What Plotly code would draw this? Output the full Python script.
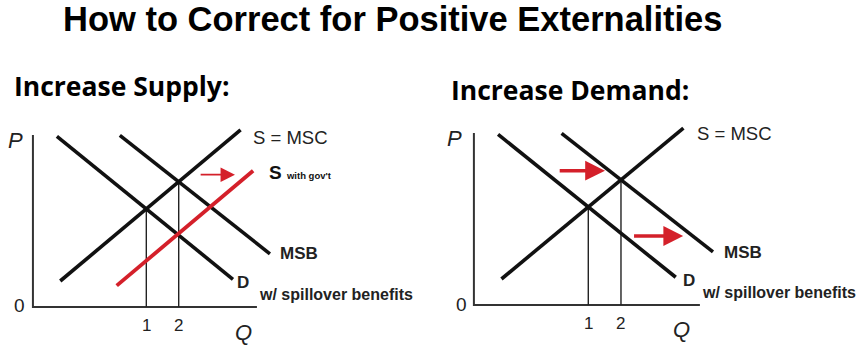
import plotly.graph_objects as go

# ---- data (abstract Q / P units, axis box = 0..10) ----
supply_q = [1.22, 9.27]
supply_p = [1.51, 10.29]
demand_q = [1.07, 8.93]
demand_p = [9.92, 1.61]
msb_q = [3.88, 10.58]
msb_p = [9.98, 3.09]
supply_gov_q = [3.74, 9.83]
supply_gov_p = [1.24, 7.92]

qty_ticks = ["1", "2"]

arrow_left = dict(q0=7.42, q1=9.02, p=7.69)
arrow_right_top = dict(q0=3.73, q1=5.80, p=7.81)
arrow_right_bottom = dict(q0=7.02, q1=9.26, p=4.01)

BLACK = "#111111"
RED = "#d4202a"


def intersect(q1, p1, q2, p2):
    m1 = (p1[1] - p1[0]) / (q1[1] - q1[0])
    m2 = (p2[1] - p2[0]) / (q2[1] - q2[0])
    b1 = p1[0] - m1 * q1[0]
    b2 = p2[0] - m2 * q2[0]
    q = (b2 - b1) / (m1 - m2)
    return q, m1 * q + b1


eq1 = intersect(supply_q, supply_p, demand_q, demand_p)
eq2 = intersect(supply_q, supply_p, msb_q, msb_p)

fig = go.Figure()

panels = [("x", "y"), ("x2", "y2")]
for xa, ya in panels:
    # axes
    fig.add_trace(go.Scatter(x=[0, 0, 10], y=[10, 0, 0], xaxis=xa, yaxis=ya,
                             mode="lines", line=dict(color="#333", width=2),
                             hoverinfo="skip", showlegend=False))
    # drop lines
    for q, p in (eq1, eq2):
        fig.add_trace(go.Scatter(x=[q, q], y=[0, p], xaxis=xa, yaxis=ya,
                                 mode="lines", line=dict(color="#222", width=1.4),
                                 hoverinfo="skip", showlegend=False))
    for qs, ps in ((supply_q, supply_p), (demand_q, demand_p), (msb_q, msb_p)):
        fig.add_trace(go.Scatter(x=qs, y=ps, xaxis=xa, yaxis=ya, mode="lines",
                                 line=dict(color=BLACK, width=3.6),
                                 hoverinfo="skip", showlegend=False))

fig.add_trace(go.Scatter(x=supply_gov_q, y=supply_gov_p, xaxis="x", yaxis="y",
                         mode="lines", line=dict(color=RED, width=3.8),
                         hoverinfo="skip", showlegend=False))

ann = []
LAB = "Liberation Sans, Arial, sans-serif"


def txt(x, y, text, xr, yr, size, xanchor="center", bold=False, italic=False, color="#111"):
    t = text
    if bold:
        t = "<b>" + t + "</b>"
    if italic:
        t = "<i>" + t + "</i>"
    ann.append(dict(x=x, y=y, xref=xr, yref=yr, text=t, showarrow=False,
                    xanchor=xanchor, yanchor="middle",
                    font=dict(family=LAB, size=size, color=color)))


for xa, ya, s_msc, msb, d, spill, zero, pp, qq in [
    ("x", "y", (9.72, 9.88), (10.94, 3.08), (9.40, 1.40), (10.0, 0.72), (-0.58, 0.06), (-0.8, 9.7), (9.4, -1.51)),
    ("x2", "y2", (9.80, 10.0), (10.97, 3.08), (9.51, 1.45), (10.0, 0.72), (-0.53, 0.0), (-0.84, 9.7), (9.2, -1.45)),
]:
    txt(*s_msc, "S = MSC", xa, ya, 18.5, xanchor="left", color="#222")
    txt(*msb, "MSB", xa, ya, 17, xanchor="left", bold=True, color="#222")
    txt(*d, "D", xa, ya, 17, bold=True, color="#222")
    txt(*spill, "w/ spillover benefits", xa, ya, 16, xanchor="left", bold=True, color="#222")
    txt(*zero, "0", xa, ya, 19, color="#222")
    txt(*pp, "P", xa, ya, 22, italic=True, color="#222")
    txt(*qq, "Q", xa, ya, 22, italic=True, color="#222")
    for (q, _), lab in zip((eq1, eq2), qty_ticks):
        txt(q, -1.05, lab, xa, ya, 17, color="#222")

ann.append(dict(x=10.45, y=7.79, xref="x", yref="y", showarrow=False, xanchor="left",
                yanchor="middle",
                text="<b>S</b> <span style='font-size:9.5px'><b>with gov't</b></span>",
                font=dict(family=LAB, size=19, color="#111")))

# arrows
for xa, ya, a, w, head, hs in [("x", "y", arrow_left, 1.8, 2, 1.6),
                               ("x2", "y2", arrow_right_top, 3.6, 2, 1.1),
                               ("x2", "y2", arrow_right_bottom, 3.6, 2, 1.1)]:
    ann.append(dict(x=a["q1"], y=a["p"], ax=a["q0"], ay=a["p"], xref=xa, yref=ya,
                    axref=xa, ayref=ya, showarrow=True, arrowhead=head, arrowsize=hs,
                    arrowwidth=w, arrowcolor=RED, text=""))

# titles
ann.append(dict(x=392.5 / 866, y=1 - 19 / 345, xref="paper", yref="paper", showarrow=False,
                text="<b>How to Correct for Positive Externalities</b>", xanchor="center",
                yanchor="middle", font=dict(family=LAB, size=34.5, color="#000")))
SUB = dict(family="Open Sans, sans-serif", size=26.5, color="#000", weight=700)
ann.append(dict(x=12 / 866, y=1 - 86 / 345, xref="paper", yref="paper", showarrow=False,
                text="Increase Supply:", xanchor="left", yanchor="middle", font=SUB))
ann.append(dict(x=449 / 866, y=1 - 90 / 345, xref="paper", yref="paper", showarrow=False,
                text="Increase Demand:", xanchor="left", yanchor="middle", font=SUB))

ydom = [0, 235 / 345]
fig.update_layout(
    width=866, height=345, margin=dict(l=0, r=0, t=0, b=0),
    paper_bgcolor="white", plot_bgcolor="rgba(0,0,0,0)",
    showlegend=False, annotations=ann,
    xaxis=dict(domain=[0, 0.5], range=[-1.47, 17.86], visible=False, fixedrange=True),
    yaxis=dict(domain=ydom, range=[-2.21, 11.45], visible=False, fixedrange=True),
    xaxis2=dict(domain=[0.5, 1], range=[-1.81, 17.35], visible=False, fixedrange=True),
    yaxis2=dict(domain=ydom, range=[-2.33, 11.34], visible=False, fixedrange=True),
)

fig.write_html("out.html")
